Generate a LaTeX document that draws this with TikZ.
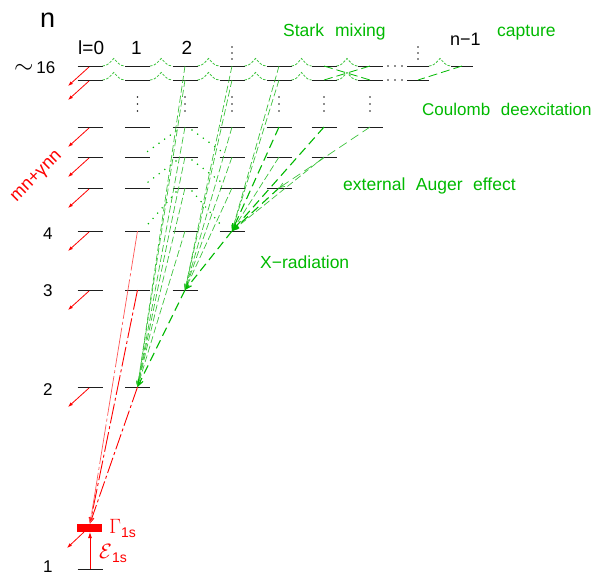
\documentclass[tikz,border=0pt]{standalone}
\usepackage{fontspec}
\setmainfont{Liberation Sans}
\usetikzlibrary{arrows.meta,calc}
\definecolor{gr}{RGB}{0,185,0}
\definecolor{lgr}{RGB}{60,195,60}
\definecolor{rd}{RGB}{255,0,0}
\definecolor{lrd}{RGB}{255,85,85}
\definecolor{lev}{RGB}{30,30,30}
\begin{document}
\begin{tikzpicture}[x=1pt,y=-1pt,
  lvl/.style={draw=lev,line width=1pt},
  stark/.style={draw=lgr,line width=0.8pt,dash pattern=on 2.5pt off 1.5pt},
  starkx/.style={draw=gr,line width=0.8pt,dash pattern=on 9pt off 4pt},
  fan/.style={draw=lgr,line width=0.7pt,dash pattern=on 7pt off 3pt,-{Straight Barb[length=5pt,width=4pt]}},
  mainx/.style={draw=gr,line width=1.1pt,dash pattern=on 9pt off 5pt,-{Straight Barb[length=6pt,width=5pt]}},
  auger/.style={draw=lgr,line width=0.7pt,dash pattern=on 9pt off 5pt,-{Straight Barb[length=5pt,width=4pt]}},
  dotg/.style={draw=gr,line width=1.7pt,line cap=round,dash pattern=on 0pt off 7pt},
  decay/.style={draw=rd,line width=0.8pt,-{Latex[length=5pt,width=3.5pt]}},
  redx/.style={draw=rd,line width=0.9pt,-{Straight Barb[length=5pt,width=4pt]}},
  lbl/.style={font=\fontsize{17}{17}\selectfont,anchor=base west,inner sep=0pt},
  glbl/.style={font=\fontsize{17.5}{18}\selectfont,text=gr,anchor=base west,inner sep=0pt}
]
\useasboundingbox (0,0) rectangle (593,574);

% ---- levels ----
\foreach \r/\y/\m in {A/66/6,B/80/6,7/127/6,6/157/5,5/188/4,4/231/3,3/290/2,2/387/1,1/569/0}{
  \foreach \l in {0,...,\m}{
    \pgfmathsetmacro{\xx}{{90,137.5,185,232,279,324,370}[\l]}
    \coordinate (L\r-\l) at (\xx,\y);
    \draw[lvl] (L\r-\l) ++(-12.5,0) -- ++(25,0);
  }
}
\coordinate (LA-7) at (418,66);
\coordinate (LB-7) at (418,80);
\coordinate (LA-8) at (462,66);
\foreach \c in {LA-7,LB-7,LA-8} \draw[lvl] (\c) ++(-11,0) -- ++(22,0);

% 1s level (broadened)
\fill[rd] (77,523.5) rectangle (102,532);
\coordinate (bar) at (90,523.5);
\coordinate (barb) at (90,532);

% ---- dots ----
\foreach \x in {137.5,185,232,279,324,370}
  \foreach \yy in {97,104,111} \fill[lev] (\x,\yy) circle (0.8);
\foreach \x in {232,418}
  \foreach \yy in {47,53,59} \fill[lev] (\x,\yy) circle (0.8);
\foreach \yy in {66,80}
  \foreach \x in {388,395,402} \fill[lev] (\x,\yy) circle (0.8);

% ---- Stark mixing waves ----
\foreach \r in {A,B}{
  \foreach \l [evaluate=\l as \n using int(\l+1)] in {0,...,5}{
    \draw[stark] ($(L\r-\l)+(12.5,0)$) to[out=0,in=225]
      ($(L\r-\l)!0.5!(L\r-\n)+(0,-7.5)$) to[out=-45,in=180]
      ($(L\r-\n)+(-12.5,0)$);
  }
}
\draw[stark] ($(LA-7)+(11,0)$) to[out=0,in=225]
  ($(LA-7)!0.5!(LA-8)+(0,-7.5)$) to[out=-45,in=180] ($(LA-8)+(-11,0)$);
\draw[starkx] (LA-5) -- (LB-6);
\draw[starkx] (LB-5) -- (LA-6);
\draw[starkx] (LA-8) -- (LB-7);

% ---- dotted (Auger / Coulomb) ----
\foreach \u/\d in {7/6,6/5,5/4}{
  \draw[dotg] ($(L\u-2)+(-9,4)$) -- ($(L\d-1)+(8,-4)$);
  \draw[dotg] ($(L\u-2)+(7,3)$) -- ($(L\d-3)+(-11,-6)$);
}

% ---- X-ray cascades ----
\foreach \s in {LA-4,LB-4,L6-4,L6-5} \draw[fan] (\s) -- (L4-3);
\foreach \s in {L7-4,L5-4,L7-5} \draw[mainx] (\s) -- (L4-3);
\draw[auger] (L7-6) -- (L5-4);
\foreach \s in {LA-3,LB-3,L7-3,L6-3,L5-3} \draw[fan] (\s) -- (L3-2);
\draw[mainx] (L4-3) -- (L3-2);
\foreach \s in {LA-2,LB-2,L7-2,L6-2,L5-2,L4-2} \draw[fan] (\s) -- (L2-1);
\draw[mainx] (L3-2) -- (L2-1);

% ---- np -> 1s ----
\draw[redx,dash pattern=on 16pt off 3pt on 3pt off 3pt] (L2-1) -- (bar);
\draw[redx,dash pattern=on 20pt off 3pt on 3pt off 3pt] (L3-1) -- (bar);
\draw[redx,draw=lrd,line width=0.7pt,dash pattern=on 40pt off 3pt on 3pt off 3pt] (L4-1) -- (bar);

% ---- decay arrows ----
\foreach \r in {A,B,7,6,5,4,3,2}
  \draw[decay] (L\r-0) ++(-1,1) -- ++(-21,19);
\draw[decay] (barb) ++(-6,0) -- ++(-17,16);
\draw[rd,line width=0.8pt,-{Latex[length=6pt,width=4pt]}] (L1-0) -- (barb);

% ---- labels ----
\node[lbl,font=\fontsize{27}{27}\selectfont] (nlab) at (40,27) {n};
\node[lbl,font=\fontsize{19}{19}\selectfont] (l0) at (78,54) {l=0};
\node[font=\fontsize{19}{19}\selectfont,anchor=base,inner sep=0pt] (l1) at (136.5,54) {1};
\node[font=\fontsize{19}{19}\selectfont,anchor=base,inner sep=0pt] (l2) at (187,54) {2};
\node[lbl,font=\fontsize{18}{18}\selectfont] (nm1) at (450,45) {n−1};
\node[lbl] (n16) at (14,73) {{\fontsize{24}{24}\selectfont$\sim$}\,16};
\node[lbl] (n4) at (43,239) {4};
\node[lbl] (n3) at (43,296) {3};
\node[lbl] (n2) at (43,395) {2};
\node[lbl] (n1) at (43,572) {1};

\node[glbl] (stark) at (283,36) {Stark\hspace{0.63em}mixing};
\node[glbl] (capt) at (497,36) {capture};
\node[glbl,font=\fontsize{17}{17}\selectfont] (coul) at (422,115) {Coulomb\hspace{0.63em}deexcitation};
\node[glbl] (aug) at (343,190) {external\hspace{0.6em}Auger\hspace{0.6em}effect};
\node[glbl] (xrad) at (260,268) {X−radiation};

\node[rotate=45,text=rd,font=\fontsize{18}{18}\selectfont,inner sep=0pt] (mn) at (37,177) {mn+γnn};
\node[anchor=base west,text=rd,inner sep=0pt] (gam) at (109,533)
  {\fontsize{22}{22}\selectfont$\Gamma$\fontsize{14}{14}\selectfont\raisebox{-4pt}{1s}};
\node[anchor=base west,text=rd,inner sep=0pt] (eps) at (99,558)
  {\fontsize{22}{22}\selectfont$\mathcal{E}$\fontsize{14}{14}\selectfont\raisebox{-4pt}{1s}};
\end{tikzpicture}
\end{document}
